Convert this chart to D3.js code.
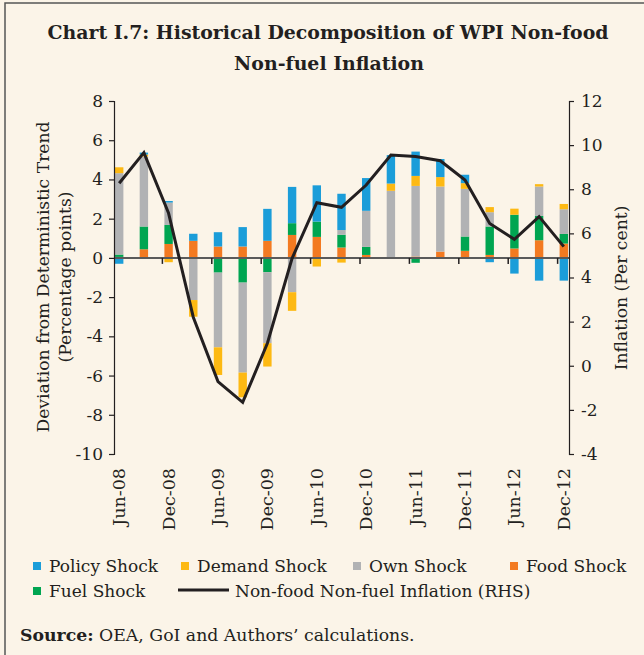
<!DOCTYPE html>
<html>
<head>
<meta charset="utf-8">
<script src="https://cdn.jsdelivr.net/npm/d3@7"></script>
<style>
  body { margin: 0; background: #fbf4e8; }
  svg { display: block; }
  text { font-family: "DejaVu Serif", serif; fill: #231f20; }
</style>
</head>
<body>
<div id="chart"></div>
<script>
// quarters shown on the x axis
var quarters = ["Jun-08","Sep-08","Dec-08","Mar-09","Jun-09","Sep-09","Dec-09","Mar-10","Jun-10","Sep-10",
  "Dec-10","Mar-11","Jun-11","Sep-11","Dec-11","Mar-12","Jun-12","Sep-12","Dec-12"];

// shock contributions, percentage points (LHS)
var policyShock = [-0.30, 0.10, 0.08, 0.36, 0.73, 0.99, 1.63, 1.85, 1.85, 1.85, 1.67, 1.45, 1.24, 0.92, 0.43, -0.22, -0.80, -1.16, -1.16];
var demandShock = [0.30, 0.10, -0.22, -0.85, -1.41, -1.26, -1.19, -0.95, -0.44, -0.24, 0, 0.37, 0.51, 0.48, 0.29, 0.26, 0.31, 0.12, 0.27];
var ownShock    = [4.15, 3.57, 1.14, -2.10, -3.81, -4.59, -3.62, -1.75, 0, 0.24, 1.84, 3.42, 3.60, 3.32, 2.43, 0.73, 0, 1.50, 1.26];
var foodShock   = [0.05, 0.44, 0.71, 0.87, 0.58, 0.58, 0.87, 1.17, 1.07, 0.53, 0.15, 0, 0.07, 0.32, 0.36, 0.15, 0.48, 0.90, 0.73];
var fuelShock   = [0.12, 1.16, 0.97, -0.05, -0.75, -1.26, -0.73, 0.60, 0.78, 0.65, 0.41, 0, -0.25, 0, 0.73, 1.45, 1.72, 1.24, 0.49];

// non-food non-fuel inflation, per cent (RHS)
var inflation = [8.27, 9.66, 6.91, 2.2, -0.72, -1.66, 1.02, 4.87, 7.39, 7.18, 8.19, 9.55, 9.48, 9.29, 8.42, 6.45, 5.73, 6.76, 5.40];

var leftTicks = [8, 6, 4, 2, 0, -2, -4, -6, -8, -10];
var rightTicks = [12, 10, 8, 6, 4, 2, 0, -2, -4];
var xLabels = ["Jun-08","Dec-08","Jun-09","Dec-09","Jun-10","Dec-10","Jun-11","Dec-11","Jun-12","Dec-12"];

var colors = {policy: "#1b9dd9", demand: "#fdb913", own: "#b1b2b4", food: "#f37a21", fuel: "#00a551"};

var W = 644, H = 655;
var margin = {top: 101, right: 75, bottom: 201, left: 114},
    width = W - margin.left - margin.right,
    height = H - margin.top - margin.bottom;

var svg = d3.select("#chart").append("svg")
    .attr("width", W)
    .attr("height", H);

svg.append("rect").attr("width", W).attr("height", H).attr("fill", "#fbf4e8");

// frame (top + left edges visible)
svg.append("path")
    .attr("d", "M5,655 V3 H644")
    .attr("fill", "none")
    .attr("stroke", "#555")
    .attr("stroke-width", 1.5);

// title
svg.append("text")
    .attr("x", 328).attr("y", 39)
    .attr("text-anchor", "middle")
    .style("font-weight", "bold")
    .style("font-size", "18.9px")
    .text("Chart I.7: Historical Decomposition of WPI Non-food");
svg.append("text")
    .attr("x", 329).attr("y", 70)
    .attr("text-anchor", "middle")
    .style("font-weight", "bold")
    .style("font-size", "18.9px")
    .text("Non-fuel Inflation");

var g = svg.append("g")
    .attr("transform", "translate(" + margin.left + "," + margin.top + ")");

var x = d3.scaleBand().domain(quarters).range([0, width]).paddingInner(0.66).paddingOuter(0.04);
var y = d3.scaleLinear().domain([-10, 8]).range([height, 0]);
var y2 = d3.scaleLinear().domain([-4, 12]).range([height, 0]);

var rows = quarters.map(function(q, i) {
  return {q: q, policy: policyShock[i], demand: demandShock[i], own: ownShock[i], food: foodShock[i], fuel: fuelShock[i]};
});

// excel-like stacking: food at bottom, policy on top
var stack = d3.stack()
    .keys(["food", "fuel", "own", "demand", "policy"])
    .offset(d3.stackOffsetDiverging);
var series = stack(rows);

g.selectAll(".series")
    .data(series)
  .enter().append("g")
    .attr("class", "series")
    .attr("fill", function(d) { return colors[d.key]; })
  .selectAll("rect")
    .data(function(d) { return d; })
  .enter().append("rect")
    .attr("x", function(d) { return x(d.data.q); })
    .attr("width", x.bandwidth())
    .attr("y", function(d) { return y(Math.max(d[0], d[1])); })
    .attr("height", function(d) { return Math.abs(y(d[0]) - y(d[1])); });

// zero line acting as category axis
g.append("line")
    .attr("x1", 0).attr("x2", width)
    .attr("y1", y(0)).attr("y2", y(0))
    .attr("stroke", "#5a5a5a")
    .attr("stroke-width", 2);

g.selectAll(".xtick")
    .data(xLabels.slice(1))
  .enter().append("line")
    .attr("class", "xtick")
    .attr("x1", function(d) { return x(d) - 2; })
    .attr("x2", function(d) { return x(d) - 2; })
    .attr("y1", y(0)).attr("y2", y(0) + 6)
    .attr("stroke", "#231f20")
    .attr("stroke-width", 1.5);

g.selectAll(".xlabel")
    .data(xLabels)
  .enter().append("text")
    .attr("class", "xlabel")
    .attr("transform", function(d) {
      return "translate(" + (x(d) + x.bandwidth() / 2 + 6) + "," + (height + 14) + ") rotate(-90)";
    })
    .attr("text-anchor", "end")
    .style("font-size", "17.5px")
    .text(function(d) { return d; });

// left axis
var yAxis = d3.axisLeft(y).tickValues(leftTicks).tickSize(5).tickPadding(6)
    .tickFormat(function(d) { return d; });
var gy = g.append("g").attr("class", "y axis").call(yAxis);
gy.select(".domain").attr("stroke", "#231f20").attr("stroke-width", 1.2);
gy.selectAll(".tick line").attr("stroke", "#231f20").attr("stroke-width", 1.2);
gy.selectAll(".tick text").style("font-family", "DejaVu Serif").style("font-size", "17px").attr("fill", "#231f20");

// right axis
var yAxis2 = d3.axisRight(y2).tickValues(rightTicks).tickSize(5).tickPadding(7)
    .tickFormat(function(d) { return d; });
var gy2 = g.append("g").attr("class", "y axis")
    .attr("transform", "translate(" + width + ",0)")
    .call(yAxis2);
gy2.select(".domain").attr("stroke", "#231f20").attr("stroke-width", 1.2);
gy2.selectAll(".tick line").attr("stroke", "#231f20").attr("stroke-width", 1.2);
gy2.selectAll(".tick text").style("font-family", "DejaVu Serif").style("font-size", "17px").attr("fill", "#231f20");

// inflation line
var line = d3.line()
    .x(function(d, i) { return x(quarters[i]) + x.bandwidth() / 2; })
    .y(function(d) { return y2(d); });

g.append("path")
    .datum(inflation)
    .attr("d", line)
    .attr("fill", "none")
    .attr("stroke", "#231f20")
    .attr("stroke-width", 3)
    .attr("stroke-linejoin", "miter");

// axis titles
svg.append("text")
    .attr("transform", "translate(49,277) rotate(-90)")
    .attr("text-anchor", "middle")
    .style("font-size", "17.2px")
    .text("Deviation from Deterministic Trend");
svg.append("text")
    .attr("transform", "translate(71,277) rotate(-90)")
    .attr("text-anchor", "middle")
    .style("font-size", "17.2px")
    .text("(Percentage points)");
svg.append("text")
    .attr("transform", "translate(627,288) rotate(-90)")
    .attr("text-anchor", "middle")
    .style("font-size", "17.2px")
    .text("Inflation (Per cent)");

// legend
var legendItems = [
  {key: "policy", label: "Policy Shock", x: 33, y: 566},
  {key: "demand", label: "Demand Shock", x: 181, y: 566},
  {key: "own", label: "Own Shock", x: 353, y: 566},
  {key: "food", label: "Food Shock", x: 510, y: 566},
  {key: "fuel", label: "Fuel Shock", x: 33, y: 591}
];
var legend = svg.append("g").attr("class", "legend");
var li = legend.selectAll(".item")
    .data(legendItems)
  .enter().append("g")
    .attr("class", "item")
    .attr("transform", function(d) { return "translate(" + d.x + "," + d.y + ")"; });
li.append("rect")
    .attr("x", 0).attr("y", -4)
    .attr("width", 8).attr("height", 8)
    .attr("fill", function(d) { return colors[d.key]; });
li.append("text")
    .attr("x", 16).attr("y", 6)
    .style("font-size", "17px")
    .text(function(d) { return d.label; });

legend.append("line")
    .attr("x1", 178).attr("x2", 229)
    .attr("y1", 590).attr("y2", 590)
    .attr("stroke", "#231f20")
    .attr("stroke-width", 3);
legend.append("text")
    .attr("x", 235).attr("y", 597)
    .style("font-size", "17px")
    .text("Non-food Non-fuel Inflation (RHS)");

// source note
var src = svg.append("text")
    .attr("x", 20).attr("y", 641)
    .style("font-size", "17.3px");
src.append("tspan").style("font-weight", "bold").text("Source:");
src.append("tspan").text(" OEA, GoI and Authors\u2019 calculations.");
</script>
</body>
</html>
